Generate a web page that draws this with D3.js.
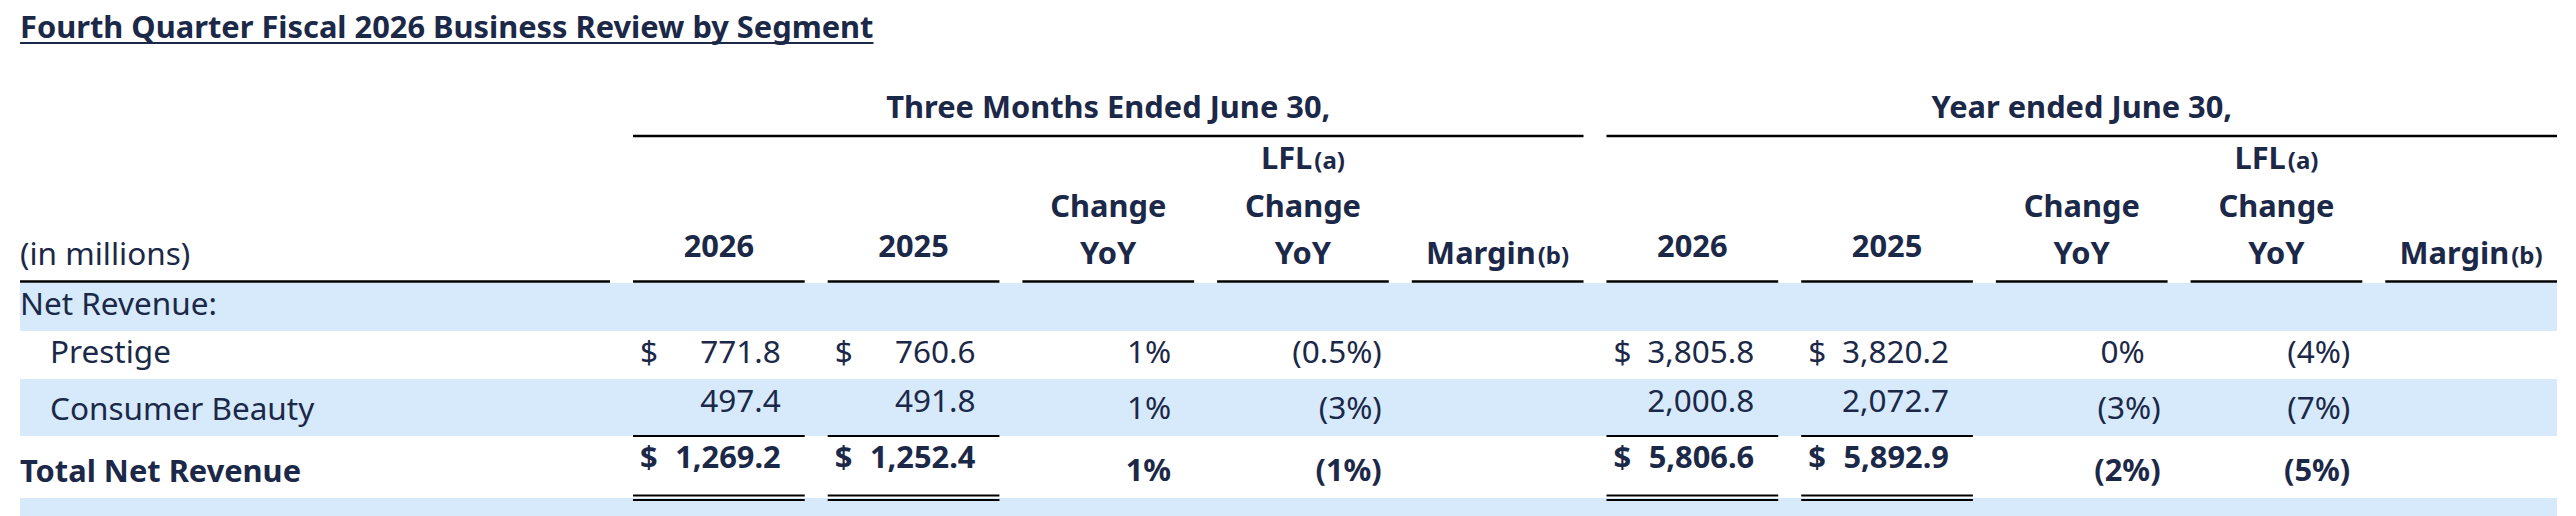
<!DOCTYPE html>
<html><head><meta charset="utf-8">
<script src="https://cdn.jsdelivr.net/npm/d3@7"></script>
<style>
  body { margin: 0; background: #fff; }
  text { fill: #1b2848; font-family: "Noto Sans", sans-serif; }
</style>
</head><body>
<script>
// data
const segments = ["Prestige", "Consumer Beauty", "Total Net Revenue"];
const q2026 = [771.8, 497.4, 1269.2];
const q2025 = [760.6, 491.8, 1252.4];
const qChange = [1, 1, 1];
const qLfl = [-0.5, -3, -1];
const y2026 = [3805.8, 2000.8, 5806.6];
const y2025 = [3820.2, 2072.7, 5892.9];
const yChange = [0, -3, -2];
const yLfl = [-4, -7, -5];
const groupTitles = ["Three Months Ended June 30,", "Year ended June 30,"];
const colHeaders = [["2026"], ["2025"], ["Change", "YoY"], ["LFL|(a)", "Change", "YoY"], ["Margin|(b)"]];

const width = 2576, height = 516;
const svg = d3.select("body").append("svg")
    .attr("width", width)
    .attr("height", height)
    .attr("viewBox", `0 0 ${width} ${height}`);

const REG = "31.5px", BOLD = "30.8px";

// 10 numeric columns: 5 per period
const cols = d3.range(10);
const x = d3.scaleBand().domain(cols).range([633, 2557]).paddingInner(0.118);
const colL = i => x(i), colR = i => x(i) + x.bandwidth();

// row bands (top, bottom) and text baselines
const rows = [
    { top: 283, bot: 331, fill: "#d6eafb" },   // Net Revenue:
    { top: 331, bot: 379, fill: "#fff", label: 363, amt: 363, pct: 363, indent: 50 },
    { top: 379, bot: 436, fill: "#d6eafb", label: 420, amt: 412, pct: 419, indent: 50 },
    { top: 436, bot: 498, fill: "#fff", label: 482, amt: 468, pct: 481, indent: 20, bold: true },
    { top: 498, bot: 516, fill: "#d6eafb" }
];

svg.selectAll("rect.band")
    .data(rows.filter(r => r.fill !== "#fff"))
    .enter().append("rect")
    .attr("class", "band")
    .attr("x", 20)
    .attr("y", d => d.top)
    .attr("width", colR(9) - 20)
    .attr("height", d => d.bot - d.top)
    .attr("fill", d => d.fill);

// title
const title = svg.append("text")
    .attr("x", 20).attr("y", 38)
    .style("font-size", BOLD).style("font-weight", 700)
    .text("Fourth Quarter Fiscal 2026 Business Review by Segment");
const tw = title.node().getComputedTextLength();
svg.append("line")
    .attr("x1", 20).attr("x2", 20 + tw)
    .attr("y1", 43).attr("y2", 43)
    .attr("stroke", "#1b2848").attr("stroke-width", 2);

// group headers
groupTitles.forEach((g, gi) => {
    const l = colL(gi * 5), r = colR(gi * 5 + 4);
    svg.append("text")
        .attr("x", (l + r) / 2).attr("y", 118)
        .attr("text-anchor", "middle")
        .style("font-size", BOLD).style("font-weight", 700)
        .text(g);
    svg.append("line")
        .attr("x1", l).attr("x2", r)
        .attr("y1", 136).attr("y2", 136)
        .attr("stroke", "#000").attr("stroke-width", 2.5);
});

// column headers
const hdrBase = { 1: [257], 2: [217, 264], 3: [169, 217, 264] };
cols.forEach(i => {
    const lines = colHeaders[i % 5];
    const cx = (colL(i) + colR(i)) / 2;
    lines.forEach((ln, k) => {
        const yb = lines.length === 1 && i % 5 === 4 ? 264 : hdrBase[lines.length][k];
        const t = svg.append("text")
            .attr("x", cx).attr("y", yb)
            .attr("text-anchor", "middle")
            .style("font-size", BOLD).style("font-weight", 700);
        const parts = ln.split("|");
        t.append("tspan").text(parts[0]);
        if (parts[1]) t.append("tspan").attr("dx", 2).style("font-size", "24px").text(parts[1]);
    });
    svg.append("line")
        .attr("x1", colL(i)).attr("x2", colR(i))
        .attr("y1", 281.5).attr("y2", 281.5)
        .attr("stroke", "#000").attr("stroke-width", 2.5);
});
svg.append("line")
    .attr("x1", 20).attr("x2", 610)
    .attr("y1", 281.5).attr("y2", 281.5)
    .attr("stroke", "#000").attr("stroke-width", 2.5);

svg.append("text")
    .attr("x", 20).attr("y", 265)
    .style("font-size", REG)
    .text("(in millions)");

svg.append("text")
    .attr("x", 20).attr("y", 315)
    .style("font-size", REG)
    .text("Net Revenue:");

// body rows
const fmtAmt = d3.format(",.1f");
const fmtPct = v => v < 0 ? `(${Math.abs(v)}%)` : `${v}%`;
const series = [q2026, q2025, qChange, qLfl, null, y2026, y2025, yChange, yLfl, null];

segments.forEach((s, ri) => {
    const r = rows[ri + 1];
    const w = r.bold ? 700 : 400;
    const fs = r.bold ? BOLD : REG;
    svg.append("text")
        .attr("x", r.indent).attr("y", r.label)
        .style("font-size", fs).style("font-weight", w)
        .text(s);
    series.forEach((vals, ci) => {
        if (!vals) return;
        const v = vals[ri];
        if (ci % 5 < 2) {
            if (ri !== 1) {
                svg.append("text")
                    .attr("x", colL(ci) + 7).attr("y", r.amt)
                    .style("font-size", fs).style("font-weight", w)
                    .text("$");
            }
            svg.append("text")
                .attr("x", colR(ci) - 24).attr("y", r.amt)
                .attr("text-anchor", "end")
                .style("font-size", fs).style("font-weight", w)
                .text(fmtAmt(v));
        } else {
            const pad = v < 0 ? (ci % 5 === 3 && ci > 4 ? 12 : 7) : 23;
            svg.append("text")
                .attr("x", colR(ci) - pad).attr("y", r.pct)
                .attr("text-anchor", "end")
                .style("font-size", fs).style("font-weight", w)
                .text(fmtPct(v));
        }
    });
});

// subtotal and total rules on amount columns
[0, 1, 5, 6].forEach(ci => {
    [[436, 2], [495.5, 2], [500, 2]].forEach(([yy, sw]) => {
        svg.append("line")
            .attr("x1", colL(ci)).attr("x2", colR(ci))
            .attr("y1", yy).attr("y2", yy)
            .attr("stroke", "#000").attr("stroke-width", sw);
    });
});
</script></body></html>
